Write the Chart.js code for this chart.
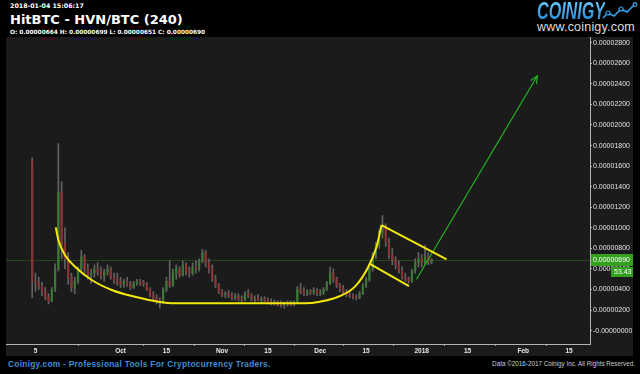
<!DOCTYPE html>
<html>
<head>
<meta charset="utf-8">
<title>HitBTC - HVN/BTC (240)</title>
<script src="https://cdn.jsdelivr.net/npm/chart.js@4.4.1/dist/chart.umd.min.js"></script>
<style>
  body { margin: 0; background: #000; width: 640px; height: 374px; overflow: hidden; position: relative; }
  .t { position: absolute; white-space: nowrap; }
  #stamp { left: 10px; top: 3px; font: bold 6.3px/1 "DejaVu Sans"; color: #fff; }
  #title { left: 10px; top: 13px; font: bold 13px/1 "DejaVu Sans"; color: #fff; }
  #ohlc { left: 10px; top: 30px; font: bold 5.8px/1 "DejaVu Sans"; color: #fff; }
  #logo { left: 537px; top: 0px; font: italic bold 23px/1 "Liberation Sans"; transform: scaleX(0.7); transform-origin: 0 0;
          background: linear-gradient(#6ccaf7, #1d7fd2); -webkit-background-clip: text; background-clip: text; color: transparent; }
  #icon { position: absolute; left: 602px; top: 2px; }
  #site { left: 537px; top: 21px; font: 12.5px/1 "Liberation Sans"; color: #ddd; letter-spacing: 0.2px; }
  #panel { position: absolute; left: 6px; top: 37px; width: 627px; height: 319px; background: #1b1b1b; }
  #foot { left: 8px; top: 360px; font: bold 8.3px/1 "Liberation Sans"; color: #3b90d6; letter-spacing: 0.3px; }
  #copy { right: 5px; top: 361px; font: 6.3px/1 "Liberation Sans"; color: #ccc; }
</style>
</head>
<body>
<div class="t" id="stamp">2018-01-04 15:06:17</div>
<div class="t" id="title">HitBTC - HVN/BTC (240)</div>
<div class="t" id="ohlc">O: 0.00000664 H: 0.00000699 L: 0.00000651 C: 0.00000690</div>
<div class="t" id="logo">COINIGY</div>
<svg id="icon" width="36" height="18">
  <polyline points="1,16 6,11 12,14 19,7 25,10 33,2" fill="none" stroke="#3aa5ec" stroke-width="1.5"/>
  <circle cx="6" cy="11" r="2" fill="#000" stroke="#3aa5ec" stroke-width="1.2"/>
  <circle cx="19" cy="7" r="2" fill="#000" stroke="#3aa5ec" stroke-width="1.2"/>
  <circle cx="33" cy="2.5" r="1.8" fill="#000" stroke="#3aa5ec" stroke-width="1.2"/>
</svg>
<div class="t" id="site">www.coinigy.com</div>
<div id="panel"><canvas id="hvnChart" width="627" height="319"></canvas></div>
<div class="t" id="foot">Coinigy.com - Professional Tools For Cryptocurrency Traders.</div>
<div class="t" id="copy">Data ©2016-2017 Coinigy Inc. All Rights Reserved.</div>

<script>
// day number counted from 2017-09-01 (day 0); prices in satoshi (1e-8 BTC)
const days = [
  3, 4, 5, 6, 7, 8, 9, 10, 11, 12, 13, 14, 15, 16, 17, 18, 19, 20, 21, 22,
  23, 24, 25, 26, 27, 28, 29, 30, 31, 32, 33, 34, 35, 36, 37, 38, 39, 40, 41, 42,
  43, 44, 45, 46, 47, 48, 49, 50, 51, 52, 53, 54, 55, 56, 57, 58, 59, 60, 61, 62,
  63, 64, 65, 66, 67, 68, 69, 70, 71, 72, 73, 74, 75, 76, 77, 78, 79, 80, 81, 82,
  83, 84, 85, 86, 87, 88, 89, 90, 91, 92, 93, 94, 95, 96, 97, 98, 99, 100, 101, 102,
  103, 104, 105, 106, 107, 108, 109, 110, 111, 112, 113, 114, 115, 116, 117, 118, 119, 120, 121, 122,
  123, 124, 125
];
const open = [
  1650, 480, 470, 430, 380, 330, 290, 400, 600, 1350, 850, 700, 520, 420, 480, 600, 720, 600, 540, 560,
  600, 580, 530, 570, 600, 520, 500, 470, 450, 480, 450, 420, 460, 480, 470, 450, 400, 350, 320, 290,
  280, 400, 480, 440, 560, 600, 540, 640, 580, 560, 620, 600, 680, 760, 660, 600, 500, 440, 380, 350,
  360, 340, 320, 340, 310, 300, 360, 340, 310, 320, 300, 310, 290, 280, 270, 280, 260, 250, 260, 270,
  250, 280, 400, 380, 360, 380, 370, 390, 360, 370, 400, 460, 560, 500, 440, 410, 380, 350, 340, 330,
  320, 360, 440, 500, 600, 740, 830, 950, 1010, 860, 740, 690, 640, 580, 520, 500, 480, 580, 660, 700,
  660, 720, 664
];
const high = [
  1680, 560, 520, 470, 420, 360, 420, 650, 1820, 1450, 1000, 760, 560, 520, 620, 780, 740, 650, 600, 640,
  660, 620, 600, 640, 620, 560, 560, 520, 500, 520, 480, 480, 500, 500, 490, 470, 420, 380, 350, 320,
  420, 520, 680, 600, 640, 620, 680, 660, 620, 660, 680, 700, 790, 780, 700, 640, 540, 460, 400, 380,
  390, 370, 360, 360, 340, 380, 400, 360, 340, 350, 330, 330, 320, 310, 300, 290, 290, 280, 290, 290,
  290, 430, 460, 420, 400, 400, 420, 410, 400, 420, 480, 620, 600, 520, 460, 440, 400, 380, 360, 350,
  380, 460, 520, 620, 760, 860, 980, 1120, 1040, 900, 800, 720, 680, 620, 560, 520, 600, 700, 760, 740,
  830, 760, 699
];
const low = [
  320, 380, 400, 340, 300, 260, 280, 380, 580, 700, 600, 450, 380, 360, 460, 580, 560, 500, 460, 520,
  540, 500, 480, 540, 500, 460, 440, 420, 420, 430, 400, 410, 440, 440, 430, 390, 330, 290, 260, 220,
  270, 380, 420, 430, 500, 520, 530, 540, 520, 540, 560, 580, 660, 620, 560, 480, 420, 360, 330, 320,
  320, 300, 300, 290, 280, 290, 320, 290, 280, 290, 270, 280, 260, 250, 250, 240, 230, 220, 240, 240,
  240, 270, 360, 340, 340, 350, 350, 340, 340, 350, 390, 450, 470, 420, 380, 360, 330, 320, 310, 300,
  310, 350, 420, 480, 580, 700, 800, 900, 820, 700, 640, 600, 560, 500, 480, 460, 470, 560, 620, 620,
  640, 640, 651
];
const close = [
  480, 470, 430, 380, 330, 290, 400, 600, 1350, 850, 700, 520, 420, 480, 600, 720, 600, 540, 560, 600,
  580, 530, 570, 600, 520, 500, 470, 450, 480, 450, 420, 460, 480, 470, 450, 400, 350, 320, 290, 280,
  400, 480, 440, 560, 600, 540, 640, 580, 560, 620, 600, 680, 760, 660, 600, 500, 440, 380, 350, 360,
  340, 320, 340, 310, 300, 360, 340, 310, 320, 300, 310, 290, 280, 270, 280, 260, 250, 260, 270, 250,
  280, 400, 380, 360, 380, 370, 390, 360, 370, 400, 460, 560, 500, 440, 410, 380, 350, 340, 330, 320,
  360, 440, 500, 600, 740, 830, 950, 1010, 860, 740, 690, 640, 580, 520, 500, 480, 580, 660, 700, 660,
  720, 664, 690
];

const xTickDays = [4, 30, 44, 61, 75, 91, 105, 122, 136, 153, 167];
const xTickLabels = ['5', 'Oct', '15', 'Nov', '15', 'Dec', '15', '2018', '15', 'Feb', '15'];
const yTicks = [0, 200, 400, 600, 800, 1000, 1200, 1400, 1600, 1800, 2000, 2200, 2400, 2600, 2800];

// hand-drawn annotations (day, satoshi)
const cupCurve = [
  {x: 10.2, y: 1005}, {x: 11.0, y: 882}, {x: 13.0, y: 736}, {x: 16.1, y: 622},
  {x: 21.2, y: 493}, {x: 27.3, y: 396}, {x: 34.4, y: 330}, {x: 41.5, y: 282},
  {x: 46.6, y: 266}, {x: 86.3, y: 266}, {x: 90.9, y: 282}, {x: 96.5, y: 330},
  {x: 101.6, y: 428}, {x: 105.7, y: 622}, {x: 108.2, y: 816}, {x: 109.7, y: 1027}
];
const flagTop = [{x: 109.7, y: 1027}, {x: 129.6, y: 694}];
const flagBottom = [{x: 105.9, y: 655}, {x: 118.1, y: 434}];
const breakoutArrow = [{x: 120.4, y: 500}, {x: 157.3, y: 2476}];

const lastPrice = 690;
const badgeText = '53.43';

const canvasEl = document.getElementById('hvnChart');

const wickData = days.map((d, i) => ({x: d, y: [low[i], high[i]]}));
const bodyData = days.map((d, i) => ({x: d, y: [open[i], close[i]]}));
const bodyColors = days.map((d, i) => close[i] >= open[i] ? '#3a7836' : '#8e3333');

const fmt = v => (v === 0 ? '-' : '') + (v / 1e8).toFixed(8);

const chartDecor = {
  id: 'chartDecor',
  beforeDatasetsDraw(chart) {
    const {ctx, chartArea: a, scales: {y}} = chart;
    const py = Math.round(y.getPixelForValue(lastPrice)) + 0.5;
    ctx.save();
    ctx.strokeStyle = '#2a451c';
    ctx.lineWidth = 1;
    ctx.beginPath();
    ctx.moveTo(a.left, py);
    ctx.lineTo(a.right, py);
    ctx.stroke();
    ctx.restore();
  },
  afterDatasetsDraw(chart) {
    // arrow head on the green breakout line
    const pts = chart.getDatasetMeta(3).data;
    const p0 = pts[0], p1 = pts[pts.length - 1];
    const ang = Math.atan2(p1.y - p0.y, p1.x - p0.x);
    const ctx = chart.ctx;
    ctx.save();
    ctx.strokeStyle = '#22b422';
    ctx.lineWidth = 1.2;
    ctx.beginPath();
    ctx.moveTo(p1.x - 8 * Math.cos(ang - 0.45), p1.y - 8 * Math.sin(ang - 0.45));
    ctx.lineTo(p1.x, p1.y);
    ctx.lineTo(p1.x - 8 * Math.cos(ang + 0.45), p1.y - 8 * Math.sin(ang + 0.45));
    ctx.stroke();
    ctx.restore();
  },
  afterDraw(chart) {
    const {ctx, chartArea: a, scales: {y}} = chart;
    const py = Math.round(y.getPixelForValue(lastPrice));
    ctx.save();
    ctx.fillStyle = '#33a020';
    ctx.fillRect(a.right + 1, py - 6, 42, 12);
    ctx.fillRect(a.right + 21, py + 7, 22, 10);
    ctx.fillStyle = '#fff';
    ctx.font = '7px "Liberation Sans"';
    ctx.textBaseline = 'middle';
    ctx.fillText(fmt(lastPrice), a.right + 3, py + 0.5);
    ctx.fillText(badgeText, a.right + 24, py + 12.5);
    ctx.restore();
  }
};

new Chart(canvasEl, {
  type: 'bar',
  data: {
    datasets: [
      {type: 'line', data: cupCurve, borderColor: '#f3e80c', borderWidth: 2, pointRadius: 0,
       cubicInterpolationMode: 'monotone', order: 0},
      {type: 'line', data: flagTop, borderColor: '#f3e80c', borderWidth: 2, pointRadius: 0, order: 0},
      {type: 'line', data: flagBottom, borderColor: '#f3e80c', borderWidth: 2, pointRadius: 0, order: 0},
      {type: 'line', data: breakoutArrow, borderColor: '#22b422', borderWidth: 1.2, pointRadius: 0, order: 0},
      {data: bodyData, backgroundColor: bodyColors, barThickness: 1.6, grouped: false, order: 1},
      {data: wickData, backgroundColor: '#626262', barThickness: 1, grouped: false, order: 2}
    ]
  },
  options: {
    responsive: false,
    animation: false,
    events: [],
    layout: {padding: 0},
    plugins: {legend: {display: false}, tooltip: {enabled: false}},
    scales: {
      x: {
        type: 'linear',
        offset: false,
        min: -5,
        max: 173.4,
        afterBuildTicks: s => { s.ticks = xTickDays.map(v => ({value: v})); },
        ticks: {
          callback: v => xTickLabels[xTickDays.indexOf(v)],
          color: '#e8e8e8',
          font: {family: 'Liberation Sans', size: 6.5, weight: 'bold'},
          padding: 1,
          maxRotation: 0,
          autoSkip: false
        },
        grid: {drawOnChartArea: false, tickLength: 2, color: '#aaa'},
        border: {color: '#b4b4b4'},
        afterFit: s => { s.height = 12; s.paddingLeft = 0; s.paddingRight = 0; }
      },
      y: {
        position: 'right',
        min: -129.3,
        max: 2855.6,
        afterBuildTicks: s => { s.ticks = yTicks.map(v => ({value: v})); },
        ticks: {
          callback: v => fmt(v),
          color: '#e0e0e0',
          font: {family: 'Liberation Sans', size: 7},
          padding: 1
        },
        grid: {drawOnChartArea: false, tickLength: 2, color: '#aaa'},
        border: {color: '#b4b4b4'},
        afterFit: s => { s.width = 43; s.paddingTop = 0; s.paddingBottom = 0; }
      }
    }
  },
  plugins: [chartDecor]
});
</script>
</body>
</html>
